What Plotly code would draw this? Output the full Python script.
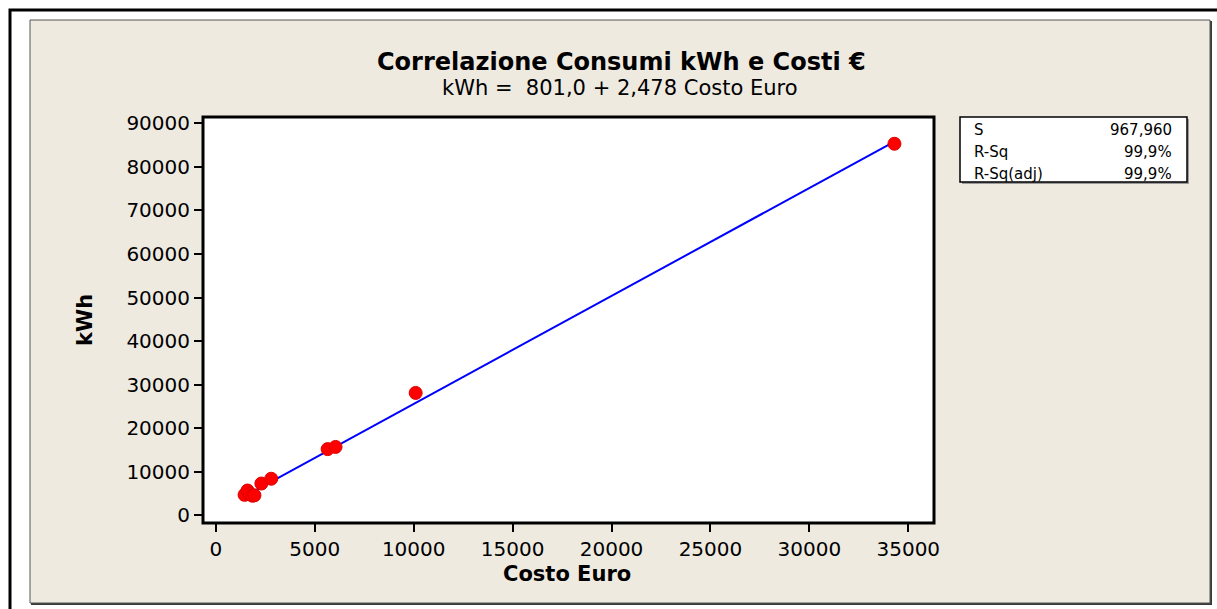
import plotly.graph_objects as go

# ---- data ----
costo_euro = [1450, 1600, 1700, 1850, 1950, 2300, 2800, 5650, 6050, 10100, 34300]
kwh = [4700, 5700, 4900, 4500, 4600, 7300, 8400, 15200, 15700, 28100, 85300]
fit_x = [1450, 34300]
fit_y = [4394, 85796]
x_ticks = [0, 5000, 10000, 15000, 20000, 25000, 30000, 35000]
y_ticks = [0, 10000, 20000, 30000, 40000, 50000, 60000, 70000, 80000, 90000]
stat_labels = ["S", "R-Sq", "R-Sq(adj)"]
stat_values = ["967,960", "99,9%", "99,9%"]

W, H = 1217, 609
L, R, T, B = 203, 934, 117, 523
PW, PH = R - L, B - T


def px(x):
    return (x - L) / PW


def py(y):
    return (B - y) / PH


FONT = "DejaVu Sans"

fig = go.Figure()
fig.add_trace(go.Scatter(x=fit_x, y=fit_y, mode="lines",
                         line=dict(color="#0000FF", width=2), hoverinfo="skip",
                         showlegend=False))
fig.add_trace(go.Scatter(x=costo_euro, y=kwh, mode="markers",
                         marker=dict(color="#FF0000", size=13,
                                     line=dict(color="#E00000", width=1)),
                         showlegend=False))

shapes = [
    # outer frame
    dict(type="rect", xref="paper", yref="paper", x0=px(10), x1=px(1230), y0=py(620), y1=py(10),
         line=dict(color="black", width=3), fillcolor="white", layer="below"),
    # beige panel shadow
    dict(type="rect", xref="paper", yref="paper", x0=px(31), x1=px(1212), y0=py(605), y1=py(21),
         line=dict(width=0), fillcolor="#3a3a3a", layer="below"),
    # beige panel
    dict(type="rect", xref="paper", yref="paper", x0=px(30), x1=px(1210), y0=py(603), y1=py(20),
         line=dict(color="#555555", width=1), fillcolor="#EEEAE0", layer="below"),
    # plot area
    dict(type="rect", xref="paper", yref="paper", x0=0, x1=1, y0=0, y1=1,
         line=dict(color="black", width=3), fillcolor="white", layer="below"),
    # stats box shadow
    dict(type="rect", xref="paper", yref="paper", x0=px(962), x1=px(1189), y0=py(184), y1=py(119),
         line=dict(width=0), fillcolor="#9a9a9a", layer="below"),
    # stats box
    dict(type="rect", xref="paper", yref="paper", x0=px(960), x1=px(1187), y0=py(182), y1=py(117),
         line=dict(color="black", width=1.5), fillcolor="white", layer="below"),
]

annotations = [
    dict(text="<b>Correlazione Consumi kWh e Costi €</b>", x=px(621), y=py(62),
         font=dict(family=FONT, size=24, color="black")),
    dict(text="kWh =  801,0 + 2,478 Costo Euro", x=px(620), y=py(88),
         font=dict(family=FONT, size=21, color="black")),
    dict(text="<b>Costo Euro</b>", x=px(567), y=py(574),
         font=dict(family=FONT, size=21, color="black")),
    dict(text="<b>kWh</b>", x=px(85), y=py(320), textangle=-90,
         font=dict(family=FONT, size=21, color="black")),
]
rows_y = [130, 152, 174]
for lab, val, yy in zip(stat_labels, stat_values, rows_y):
    annotations.append(dict(text=lab, x=px(972), y=py(yy), xanchor="left",
                            font=dict(family=FONT, size=15, color="black")))
    annotations.append(dict(text=val, x=px(1174), y=py(yy), xanchor="right",
                            font=dict(family=FONT, size=15, color="black")))
for a in annotations:
    a.update(xref="paper", yref="paper", showarrow=False)
    a.setdefault("xanchor", "center")
    a.setdefault("yanchor", "middle")

axis_common = dict(showgrid=False, zeroline=False, showline=False,
                   ticks="outside", ticklen=8, tickwidth=2, tickcolor="black",
                   tickformat="d", tickfont=dict(family=FONT, size=20, color="black"))

fig.update_layout(
    width=W, height=H, autosize=False,
    margin=dict(l=L, r=W - R, t=T, b=H - B, pad=0),
    paper_bgcolor="white", plot_bgcolor="white",
    xaxis=dict(range=[-650, 36300], tickvals=x_ticks, **axis_common),
    yaxis=dict(range=[-1760, 91440], tickvals=y_ticks, **axis_common),
    shapes=shapes, annotations=annotations, showlegend=False,
)

fig.write_html("out.html", config={"displayModeBar": False},
               post_script="document.body.style.margin='0';")
